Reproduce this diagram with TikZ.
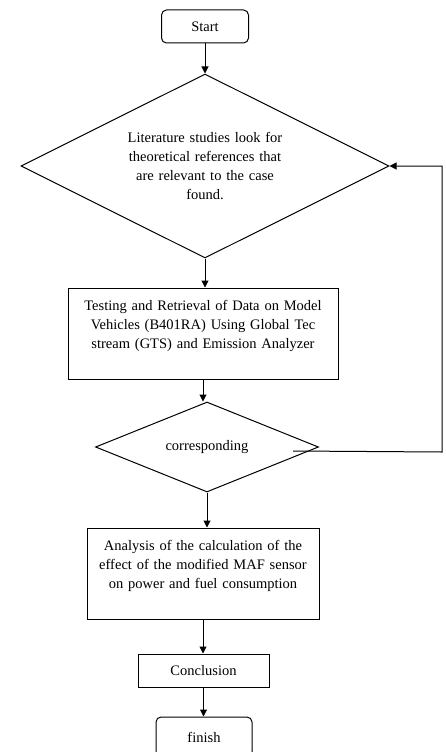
\documentclass[tikz,border=0pt]{standalone}
\usepackage{fontspec}
\setmainfont{Liberation Serif}
\usepackage{tikz}
\usetikzlibrary{shapes.geometric,arrows.meta}

\begin{document}
\begin{tikzpicture}[x=1pt, y=-1pt, line width=1pt,
  font=\fontsize{14.5}{19}\selectfont,
  term/.style={draw, rounded corners=5pt, inner sep=0pt},
  proc/.style={draw, inner sep=0pt, align=center},
  decide/.style={draw, diamond, aspect=2, inner sep=0pt, align=center},
  flow/.style={-{Triangle[length=7pt,width=7pt]}}]

\useasboundingbox (0,0) rectangle (445,752);

\node (start) at (205,26.5) [term, minimum width=87, minimum height=33] {Start};
\node (lit) at (205,166) [decide, minimum width=368, minimum height=184, text width=180] {Literature studies look for\\ theoretical references that\\ are relevant to the case\\ found.};
\node (test) at (203,333.5) [proc, minimum width=270, minimum height=91, text width=265] {Testing and Retrieval of Data on Model\\ Vehicles (B401RA) Using Global Tec\\ stream (GTS) and Emission Analyzer\\ \mbox{}};
\node (match) at (207,447) [decide, minimum width=223, minimum height=90] {corresponding};
\node (anal) at (203,573.5) [proc, minimum width=232, minimum height=91, text width=228] {Analysis of the calculation of the\\ effect of the modified MAF sensor\\ on power and fuel consumption\\ \mbox{}};
\node (concl) at (203.5,670.5) [proc, minimum width=131, minimum height=33] {Conclusion};
\node (finish) at (204,737) [term, minimum width=96, minimum height=40] {finish};

\draw[flow] (start) -- (start |- lit.north);
\draw[flow] (lit) -- (lit |- test.north);
\draw[flow] (test) -- (test |- match.north);
\draw[flow] (match) -- (match |- anal.north);
\draw[flow] (anal) -- (anal |- concl.north);
\draw[flow] (concl) -- (concl |- finish.north);

% back to the literature step
\coordinate (back) at (442,452);
\draw[flow] ([xshift=-26pt,yshift=-4pt]match.east) -- (back) |- (lit.east);
\end{tikzpicture}
\end{document}
